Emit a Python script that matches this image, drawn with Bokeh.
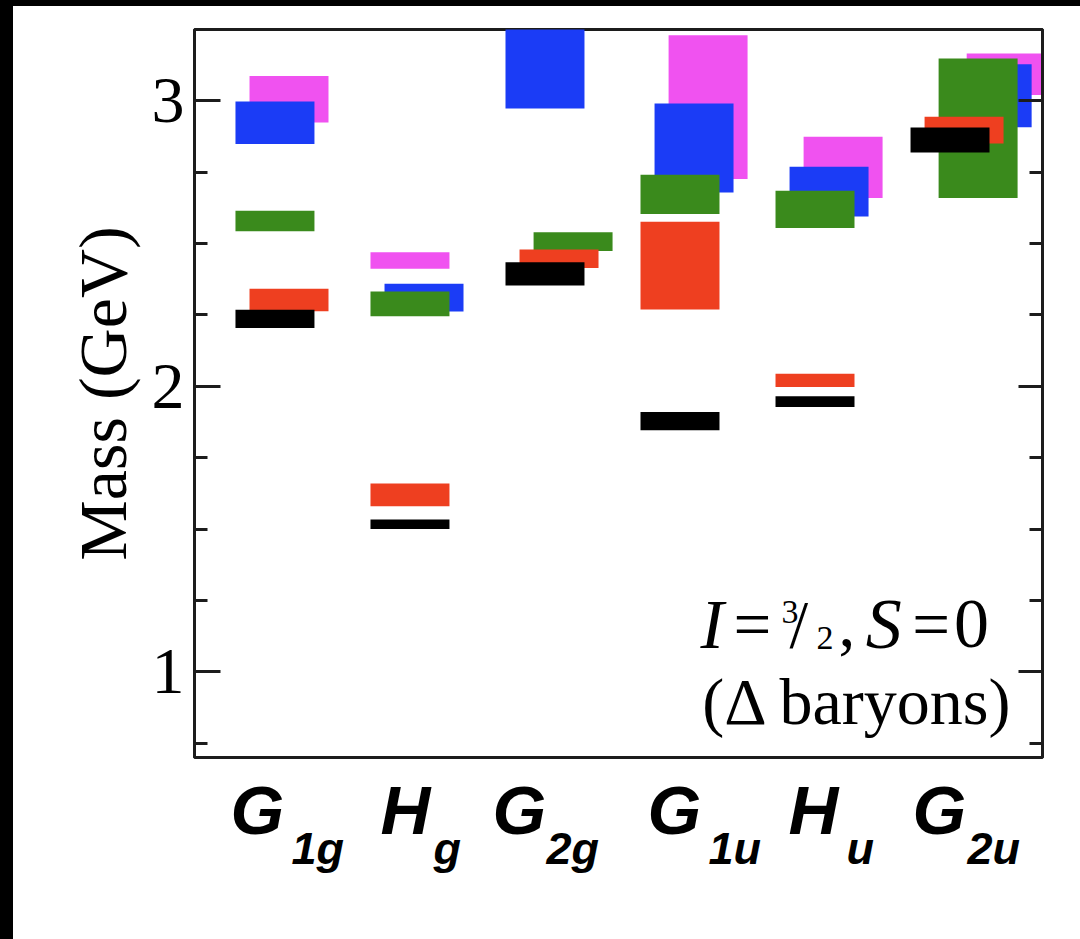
from bokeh.plotting import figure
from bokeh.models import Range1d, LinearAxis, SingleIntervalTicker, Label
from bokeh.layouts import column
from bokeh.core.properties import value
from bokeh.embed import file_html
from bokeh.resources import INLINE

# ---------------- data ----------------
CATEGORIES = ["G1g", "Hg", "G2g", "G1u", "Hu", "G2u"]
MAIN_LETTERS = ["G", "H", "G", "G", "H", "G"]
SUBSCRIPTS = ["1g", "g", "2g", "1u", "u", "2u"]

# mass ranges (GeV) per category; None = not shown; slot = horizontal stagger index
pink_lo = [2.924, 2.412, None, 2.726, 2.660, 3.021]
pink_hi = [3.087, 2.470, None, 3.230, 2.874, 3.166]
pink_slot = [1, 0, None, 2, 2, 4]

blue_lo = [2.849, 2.262, 2.973, 2.679, 2.595, 2.908]
blue_hi = [2.998, 2.359, 3.300, 2.991, 2.769, 3.128]
blue_slot = [0, 1, 0, 1, 1, 3]

green_lo = [2.543, 2.246, 2.474, 2.604, 2.555, 2.660]
green_hi = [2.615, 2.332, 2.540, 2.741, 2.685, 3.148]
green_slot = [0, 0, 2, 0, 0, 2]

red_lo = [2.263, 1.580, 2.415, 2.269, 1.998, 2.851]
red_hi = [2.342, 1.660, 2.479, 2.577, 2.044, 2.944]
red_slot = [1, 0, 1, 0, 0, 1]

black_lo = [2.204, 1.500, 2.353, 1.846, 1.928, 2.819]
black_hi = [2.268, 1.534, 2.435, 1.910, 1.965, 2.907]
black_slot = [0, 0, 0, 0, 0, 0]

SERIES = [
    ("#f052f0", pink_lo, pink_hi, pink_slot),
    ("#1b3cf6", blue_lo, blue_hi, blue_slot),
    ("#3a8a1c", green_lo, green_hi, green_slot),
    ("#ee3f20", red_lo, red_hi, red_slot),
    ("#000000", black_lo, black_hi, black_slot),
]

BOX_WIDTH = 0.585
SLOT_STEP = 0.104
Y_TICKS_INTERVAL = 1

X_RANGE = (-0.596, 5.685)
AXIS_COLOR = "#1c1c1c"

# ---------------- main figure ----------------
p = figure(width=1067, height=754, title=None,
           x_range=Range1d(*X_RANGE), y_range=Range1d(0.70, 3.25),
           output_backend="svg", toolbar_location=None,
           x_axis_location=None,
           min_border_left=181, min_border_right=38,
           min_border_top=23, min_border_bottom=3)
p.background_fill_color = "white"
p.border_fill_color = "white"
p.outline_line_color = AXIS_COLOR
p.outline_line_width = 3
p.grid.visible = False

yax = p.yaxis[0]
yax.ticker = SingleIntervalTicker(interval=Y_TICKS_INTERVAL, num_minor_ticks=4)
yax.axis_label = "Mass (GeV)"
yax.axis_label_text_font = "Liberation Serif"
yax.axis_label_text_font_size = "68px"
yax.axis_label_text_font_style = "normal"
yax.axis_label_text_color = "black"
yax.axis_label_standoff = 8
yax.major_label_text_font = "Liberation Serif"
yax.major_label_text_font_size = "66px"
yax.major_label_text_color = "black"
yax.major_label_standoff = 10
yax.major_tick_in = 26

rax = LinearAxis(ticker=SingleIntervalTicker(interval=Y_TICKS_INTERVAL, num_minor_ticks=4))
rax.major_label_text_color = None
rax.major_tick_in = 24
p.add_layout(rax, "right")

for ax in [yax, rax]:
    ax.axis_line_width = 3
    ax.axis_line_color = AXIS_COLOR
    ax.major_tick_out = 0
    ax.minor_tick_in = 13
    ax.minor_tick_out = 0
    ax.major_tick_line_width = 3
    ax.minor_tick_line_width = 3
    ax.major_tick_line_color = AXIS_COLOR
    ax.minor_tick_line_color = AXIS_COLOR

# ---------------- boxes ----------------
for color, lo, hi, slot in SERIES:
    L, R, B, T = [], [], [], []
    for i in range(len(CATEGORIES)):
        if lo[i] is None:
            continue
        c = i + slot[i] * SLOT_STEP
        L.append(c - BOX_WIDTH / 2)
        R.append(c + BOX_WIDTH / 2)
        B.append(lo[i])
        T.append(hi[i])
    p.quad(left=L, right=R, bottom=B, top=T, fill_color=color, line_color=None)

# ---------------- annotation ----------------
ANN = [
    ("I", 3.152, 1.166, "70px", "italic"),
    ("=", 3.397, 1.166, "67px", "normal"),
    ("3", 3.752, 1.210, "34px", "normal"),
    ("/", 3.811, 1.166, "67px", "normal"),
    ("2", 4.011, 1.117, "34px", "normal"),
    (",", 4.174, 1.166, "67px", "normal"),
    ("S", 4.375, 1.166, "72px", "italic"),
    ("=", 4.720, 1.166, "67px", "normal"),
    ("0", 5.030, 1.166, "70px", "normal"),
]
for t, x, y, fs, st in ANN:
    p.add_layout(Label(x=x, y=y, text=t, text_font="Liberation Serif",
                       text_font_style=st, text_font_size=fs, text_color="black",
                       text_align="left", text_baseline="alphabetic"))
p.add_layout(Label(x=4.319, y=0.896, text="(\u0394 baryons)", text_font="Liberation Serif",
                   text_font_size="66px", text_color="black",
                   text_align="center", text_baseline="alphabetic"))

# ---------------- category label strip ----------------
q = figure(width=1067, height=179, title=None,
           x_range=p.x_range, y_range=Range1d(179, 0),
           output_backend="svg", toolbar_location=None,
           x_axis_location=None, y_axis_location=None,
           min_border_left=181, min_border_right=38,
           min_border_top=0, min_border_bottom=0)
q.outline_line_color = None
q.grid.visible = False
q.background_fill_color = "white"
q.border_fill_color = "white"

MAIN_SHIFT = [-0.329, -0.218, -0.389, -0.240, -0.196, -0.277]
SUB_SHIFT = [0.123, 0.174, 0.011, 0.211, 0.234, 0.130]
MAIN_BASELINE = 50
SUB_BASELINE = 88
q.text(x=[i + s for i, s in enumerate(MAIN_SHIFT)], y=[MAIN_BASELINE] * len(CATEGORIES),
       text=MAIN_LETTERS, text_font=value("Liberation Sans"), text_font_style="bold italic",
       text_font_size="69px", text_color="black", text_align="left", text_baseline="alphabetic")
q.text(x=[i + s for i, s in enumerate(SUB_SHIFT)], y=[SUB_BASELINE] * len(CATEGORIES),
       text=SUBSCRIPTS, text_font=value("Liberation Sans"), text_font_style="bold italic",
       text_font_size="45px", text_color="black", text_align="left", text_baseline="alphabetic")

inner = column(p, q, spacing=0, styles={"background-color": "white"})
inner.margin = (6, 0, 0, 13)
layout = column(inner, spacing=0, styles={"background-color": "black"})
open("out.html", "w").write(file_html(layout, INLINE))
